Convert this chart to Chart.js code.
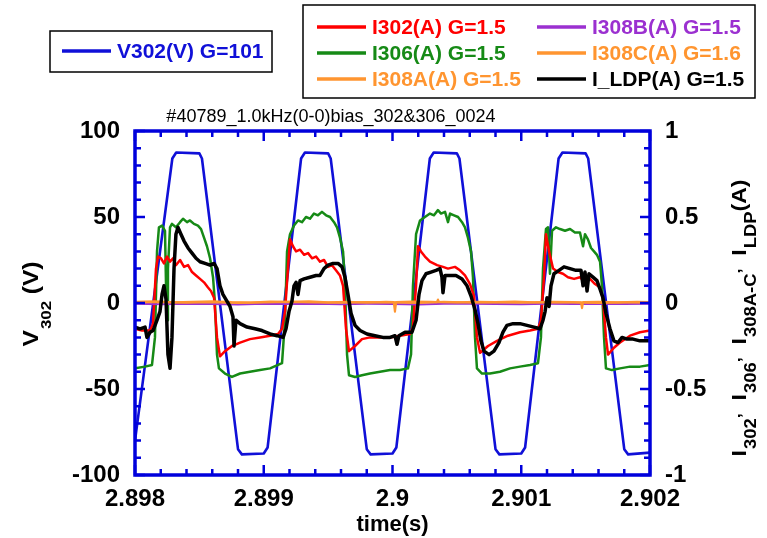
<!DOCTYPE html>
<html><head><meta charset="utf-8">
<script src="https://cdn.jsdelivr.net/npm/chart.js@4/dist/chart.umd.min.js"></script>
<style>html,body{margin:0;padding:0;background:#fff;}canvas{display:block;}</style>
</head><body>
<canvas id="c" width="767" height="538"></canvas>
<script>
// ---------- data (time in s, V302 in V, currents in A) ----------
const tV302 = [2.89800, 2.89829, 2.89832, 2.89850, 2.89852, 2.89880, 2.89883, 2.89900, 2.89903, 2.89929, 2.89932, 2.89950, 2.89952, 2.89980, 2.89983, 2.90000, 2.90003, 2.90029, 2.90032, 2.90050, 2.90052, 2.90080, 2.90083, 2.90100, 2.90103, 2.90129, 2.90132, 2.90150, 2.90152, 2.90180, 2.90183, 2.90200];
const v302 = [-80, 84, 87.5, 87, 84, -85, -88, -87.5, -84, 84, 87.5, 87, 84, -85, -88, -87.5, -84, 84, 87.5, 87, 84, -85, -88, -87.5, -84, 84, 87.5, 87, 84, -85, -88, -87];

const tI302 = [2.898000, 2.898054, 2.898117, 2.898140, 2.898163, 2.898179, 2.898202, 2.898225, 2.898249, 2.898272, 2.898295, 2.898318, 2.898350, 2.898381, 2.898412, 2.898443, 2.898474, 2.898505, 2.898536, 2.898567, 2.898590, 2.898614, 2.898637, 2.898660, 2.898699, 2.898753, 2.898816, 2.898893, 2.898971, 2.899049, 2.899111, 2.899142, 2.899165, 2.899188, 2.899204, 2.899227, 2.899251, 2.899282, 2.899313, 2.899344, 2.899375, 2.899406, 2.899437, 2.899468, 2.899499, 2.899530, 2.899561, 2.899592, 2.899616, 2.899639, 2.899662, 2.899709, 2.899763, 2.899825, 2.899903, 2.899981, 2.900058, 2.900136, 2.900159, 2.900183, 2.900198, 2.900221, 2.900252, 2.900291, 2.900346, 2.900392, 2.900431, 2.900485, 2.900524, 2.900563, 2.900602, 2.900633, 2.900656, 2.900680, 2.900742, 2.900812, 2.900897, 2.900990, 2.901068, 2.901130, 2.901153, 2.901177, 2.901192, 2.901216, 2.901247, 2.901285, 2.901324, 2.901363, 2.901410, 2.901456, 2.901495, 2.901534, 2.901573, 2.901612, 2.901635, 2.901658, 2.901674, 2.901720, 2.901767, 2.901845, 2.901922, 2.902000];
const i302 = [-0.15, -0.16, -0.16, -0.12, 0.20, 0.27, 0.26, 0.23, 0.27, 0.24, 0.26, 0.22, 0.25, 0.21, 0.22, 0.18, 0.16, 0.14, 0.12, 0.09, 0.07, 0.03, -0.20, -0.31, -0.28, -0.25, -0.23, -0.21, -0.20, -0.19, -0.18, -0.15, -0.05, 0.20, 0.37, 0.33, 0.30, 0.31, 0.28, 0.29, 0.26, 0.27, 0.24, 0.25, 0.21, 0.22, 0.19, 0.16, 0.10, -0.15, -0.28, -0.25, -0.21, -0.20, -0.20, -0.20, -0.19, -0.18, -0.14, 0.10, 0.33, 0.30, 0.27, 0.24, 0.22, 0.21, 0.20, 0.21, 0.19, 0.16, 0.11, 0.04, -0.20, -0.29, -0.25, -0.22, -0.19, -0.17, -0.16, -0.15, -0.10, 0.15, 0.40, 0.30, 0.20, 0.18, 0.17, 0.15, 0.14, 0.15, 0.12, 0.14, 0.11, 0.09, 0.02, -0.20, -0.30, -0.26, -0.23, -0.19, -0.17, -0.16];

const tI306 = [2.898000, 2.898078, 2.898132, 2.898155, 2.898171, 2.898186, 2.898210, 2.898233, 2.898241, 2.898249, 2.898256, 2.898272, 2.898287, 2.898318, 2.898350, 2.898373, 2.898404, 2.898427, 2.898458, 2.898489, 2.898513, 2.898536, 2.898559, 2.898583, 2.898606, 2.898621, 2.898637, 2.898652, 2.898699, 2.898753, 2.898816, 2.898893, 2.898971, 2.899049, 2.899111, 2.899142, 2.899165, 2.899181, 2.899204, 2.899235, 2.899266, 2.899297, 2.899328, 2.899359, 2.899390, 2.899421, 2.899452, 2.899484, 2.899515, 2.899546, 2.899569, 2.899592, 2.899616, 2.899631, 2.899647, 2.899662, 2.899709, 2.899763, 2.899825, 2.899903, 2.899981, 2.900058, 2.900120, 2.900144, 2.900159, 2.900183, 2.900214, 2.900252, 2.900291, 2.900322, 2.900353, 2.900377, 2.900408, 2.900431, 2.900447, 2.900478, 2.900509, 2.900540, 2.900563, 2.900586, 2.900610, 2.900625, 2.900641, 2.900656, 2.900695, 2.900757, 2.900835, 2.900913, 2.900990, 2.901068, 2.901130, 2.901153, 2.901169, 2.901192, 2.901208, 2.901223, 2.901239, 2.901270, 2.901301, 2.901340, 2.901379, 2.901417, 2.901456, 2.901480, 2.901495, 2.901518, 2.901542, 2.901565, 2.901588, 2.901612, 2.901627, 2.901643, 2.901658, 2.901705, 2.901767, 2.901845, 2.901922, 2.902000];
const i306 = [-0.38, -0.37, -0.36, -0.20, 0.30, 0.44, 0.45, 0.42, 0.10, -0.10, 0.20, 0.44, 0.46, 0.44, 0.47, 0.49, 0.47, 0.48, 0.46, 0.45, 0.43, 0.38, 0.33, 0.26, 0.15, 0.00, -0.30, -0.38, -0.41, -0.43, -0.41, -0.40, -0.39, -0.38, -0.36, -0.35, -0.10, 0.30, 0.40, 0.45, 0.48, 0.47, 0.50, 0.49, 0.52, 0.51, 0.53, 0.51, 0.50, 0.47, 0.44, 0.38, 0.30, 0.10, -0.30, -0.42, -0.43, -0.42, -0.41, -0.40, -0.39, -0.39, -0.38, -0.30, 0.10, 0.40, 0.48, 0.50, 0.52, 0.51, 0.54, 0.52, 0.53, 0.47, 0.52, 0.51, 0.50, 0.47, 0.44, 0.38, 0.30, 0.15, -0.20, -0.38, -0.41, -0.41, -0.40, -0.38, -0.37, -0.36, -0.35, -0.20, 0.20, 0.43, 0.44, 0.17, 0.42, 0.44, 0.43, 0.42, 0.43, 0.41, 0.41, 0.33, 0.40, 0.37, 0.32, 0.30, 0.28, 0.24, 0.10, -0.20, -0.38, -0.39, -0.38, -0.37, -0.37, -0.36];

const tI308A = [2.898000, 2.898150, 2.898300, 2.898450, 2.898600, 2.898750, 2.898900, 2.899050, 2.899200, 2.899350, 2.899500, 2.899650, 2.899800, 2.899950, 2.900010, 2.900019, 2.900028, 2.900150, 2.900300, 2.900345, 2.900353, 2.900361, 2.900500, 2.900650, 2.900800, 2.900950, 2.901100, 2.901250, 2.901400, 2.901464, 2.901472, 2.901480, 2.901600, 2.901750, 2.901900, 2.902000];
const i308A = [0.006, 0.009, 0.004, 0.007, 0.010, 0.005, 0.003, 0.008, 0.006, 0.009, 0.004, 0.007, 0.003, 0.006, 0.005, -0.05, 0.005, 0.008, 0.006, 0.005, 0.02, 0.006, 0.004, 0.007, 0.005, 0.008, 0.004, 0.006, 0.005, 0.004, -0.03, 0.005, 0.007, 0.004, 0.006, 0.005];

const tI308BC = [2.8980, 2.8982, 2.8984, 2.8986, 2.8988, 2.8990, 2.8992, 2.8994, 2.8996, 2.8998, 2.9000, 2.9002, 2.9004, 2.9006, 2.9008, 2.9010, 2.9012, 2.9014, 2.9016, 2.9018, 2.9020];
const i308B = [-0.005, -0.007, -0.004, -0.006, -0.008, -0.005, -0.006, -0.004, -0.007, -0.005, -0.006, -0.008, -0.005, -0.004, -0.006, -0.007, -0.005, -0.006, -0.004, -0.006, -0.005];
const i308C = [0.003, 0.006, 0.002, 0.005, 0.001, 0.004, 0.007, 0.003, 0.002, 0.005, 0.004, 0.001, 0.006, 0.003, 0.004, 0.002, 0.005, 0.003, 0.001, 0.004, 0.003];

const tLDP = [2.898000, 2.898039, 2.898078, 2.898093, 2.898117, 2.898140, 2.898171, 2.898194, 2.898210, 2.898225, 2.898241, 2.898256, 2.898272, 2.898287, 2.898303, 2.898318, 2.898334, 2.898357, 2.898381, 2.898412, 2.898443, 2.898474, 2.898505, 2.898544, 2.898583, 2.898614, 2.898637, 2.898660, 2.898683, 2.898707, 2.898738, 2.898761, 2.898769, 2.898784, 2.898816, 2.898870, 2.898932, 2.898986, 2.899049, 2.899103, 2.899150, 2.899173, 2.899196, 2.899219, 2.899235, 2.899251, 2.899266, 2.899282, 2.899313, 2.899359, 2.899406, 2.899437, 2.899468, 2.899499, 2.899538, 2.899577, 2.899608, 2.899631, 2.899654, 2.899678, 2.899709, 2.899748, 2.899802, 2.899864, 2.899926, 2.899981, 2.900019, 2.900035, 2.900050, 2.900097, 2.900151, 2.900183, 2.900206, 2.900229, 2.900260, 2.900299, 2.900338, 2.900369, 2.900384, 2.900392, 2.900408, 2.900447, 2.900493, 2.900540, 2.900579, 2.900610, 2.900641, 2.900664, 2.900687, 2.900711, 2.900750, 2.900788, 2.900827, 2.900858, 2.900889, 2.900936, 2.900990, 2.901045, 2.901099, 2.901146, 2.901169, 2.901185, 2.901200, 2.901216, 2.901231, 2.901254, 2.901293, 2.901332, 2.901379, 2.901425, 2.901464, 2.901480, 2.901495, 2.901511, 2.901526, 2.901557, 2.901588, 2.901612, 2.901635, 2.901658, 2.901689, 2.901720, 2.901751, 2.901783, 2.901821, 2.901868, 2.901922, 2.902000];
const iLDP = [-0.14, -0.15, -0.14, -0.20, -0.17, -0.16, -0.10, -0.05, 0.05, 0.10, 0.02, -0.30, -0.38, -0.20, 0.20, 0.40, 0.44, 0.40, 0.36, 0.32, 0.29, 0.26, 0.24, 0.23, 0.22, 0.23, 0.20, 0.10, 0.05, 0.02, -0.02, -0.08, -0.25, -0.10, -0.12, -0.14, -0.15, -0.16, -0.18, -0.19, -0.20, -0.15, -0.05, 0.01, 0.10, 0.12, 0.05, 0.13, 0.14, 0.15, 0.16, 0.16, 0.20, 0.22, 0.23, 0.23, 0.21, 0.15, 0.05, -0.06, -0.13, -0.16, -0.18, -0.19, -0.20, -0.20, -0.19, -0.24, -0.19, -0.17, -0.17, -0.10, 0.05, 0.13, 0.17, 0.18, 0.19, 0.20, 0.15, 0.06, 0.16, 0.16, 0.16, 0.14, 0.10, 0.04, -0.04, -0.12, -0.22, -0.28, -0.30, -0.28, -0.23, -0.17, -0.13, -0.12, -0.12, -0.13, -0.14, -0.15, -0.10, -0.05, 0.03, -0.02, 0.10, 0.17, 0.19, 0.21, 0.20, 0.19, 0.19, 0.10, 0.18, 0.07, 0.17, 0.15, 0.13, 0.08, 0.03, -0.06, -0.15, -0.22, -0.23, -0.20, -0.21, -0.21, -0.22, -0.22];

const xTickValues = [2.898, 2.899, 2.900, 2.901, 2.902];
const xTickLabels = ['2.898', '2.899', '2.9', '2.901', '2.902'];
const yTickValues = [-100, -50, 0, 50, 100];
const yTickLabels = ['-100', '-50', '0', '50', '100'];
const y1TickValues = [-1, -0.5, 0, 0.5, 1];
const y1TickLabels = ['-1', '-0.5', '0', '0.5', '1'];

const seriesLabels = ['V302(V) G=101', 'I302(A) G=1.5', 'I306(A) G=1.5', 'I308A(A) G=1.5', 'I308B(A) G=1.5', 'I308C(A) G=1.6', 'I_LDP(A) G=1.5'];
const titleText = '#40789_1.0kHz(0-0)bias_302&306_0024';

// ---------- styles ----------
const FONT = "'Liberation Sans', Arial, Helvetica, sans-serif";
const FRAME = '#0000dc';
const COLORS = ['#1010d8', '#ff0000', '#168a16', '#ff9530', '#9b30d0', '#ff9530', '#000000'];

const pts = (t, v) => t.map((x, i) => ({x: x, y: v[i]}));
function ds(i, t, v, axis, width, order) {
  return {label: seriesLabels[i], data: pts(t, v), yAxisID: axis, borderColor: COLORS[i],
    backgroundColor: COLORS[i], borderWidth: width, pointRadius: 0, tension: 0, fill: false,
    order: order, borderJoinStyle: 'round', borderCapStyle: 'round'};
}

const framePlugin = {
  id: 'frame',
  afterDatasetsDraw(chart) {
    const {ctx, chartArea: a, scales} = chart;
    const x = scales.x, y = scales.y;
    ctx.save();
    ctx.strokeStyle = FRAME; ctx.lineWidth = 2.5; ctx.lineCap = 'butt';
    ctx.beginPath();
    for (let i = 0; i <= 20; i++) {
      const py = y.getPixelForValue(-100 + i * 10);
      const L = (i % 5 === 0) ? 10 : 6;
      ctx.moveTo(a.left, py); ctx.lineTo(a.left + L, py);
      ctx.moveTo(a.right, py); ctx.lineTo(a.right - L, py);
    }
    for (let i = 0; i <= 20; i++) {
      const px = x.getPixelForValue(2.898 + i * 0.0002);
      const L = (i % 5 === 0) ? 10 : 6;
      ctx.moveTo(px, a.top); ctx.lineTo(px, a.top + L);
      ctx.moveTo(px, a.bottom); ctx.lineTo(px, a.bottom - L);
    }
    ctx.stroke();
    ctx.lineWidth = 3.5;
    ctx.strokeRect(a.left, a.top, a.right - a.left, a.bottom - a.top);
    ctx.restore();
  }
};

function drawRich(ctx, pieces, cy, baseX, stretch) {
  // vertical text rotated -90deg, centred on cy, baseline at page x = baseX
  ctx.save();
  ctx.translate(baseX, cy);
  ctx.rotate(-Math.PI / 2);
  ctx.scale(stretch, 1);
  ctx.textBaseline = 'alphabetic'; ctx.textAlign = 'left'; ctx.fillStyle = '#000';
  let total = 0;
  pieces.forEach(p => { ctx.font = p.f; total += ctx.measureText(p.s).width + (p.g || 0); });
  let xx = -total / 2;
  pieces.forEach(p => { ctx.font = p.f; ctx.fillText(p.s, xx, p.dy || 0); xx += ctx.measureText(p.s).width + (p.g || 0); });
  ctx.restore();
}

const textPlugin = {
  id: 'texts',
  afterDraw(chart) {
    const ctx = chart.ctx;
    const a = chart.chartArea;
    ctx.save();
    // title
    ctx.font = '18px ' + FONT; ctx.fillStyle = '#000'; ctx.textAlign = 'center'; ctx.textBaseline = 'middle';
    ctx.fillText(titleText, 331, 117);
    // x axis title
    ctx.font = 'bold 22px ' + FONT;
    ctx.fillText('time(s)', (a.left + a.right) / 2, 525);
    // left y title
    const M = 'bold 22px ' + FONT, S = 'bold 15px ' + FONT;
    drawRich(ctx, [{s: 'V', f: M, g: 1}, {s: '302', f: S, dy: 13, g: 6}, {s: '(V)', f: M}], 304, 38, 1.12);
    // right y title
    const M2 = 'bold 20px ' + FONT, S2 = 'bold 16px ' + FONT;
    drawRich(ctx, [
      {s: 'I', f: M2, g: 1}, {s: '302', f: S2, dy: 10}, {s: '\u2019', f: S2, dy: 4, g: 11},
      {s: 'I', f: M2, g: 1}, {s: '306', f: S2, dy: 10}, {s: '\u2019', f: S2, dy: 4, g: 11},
      {s: 'I', f: M2, g: 1}, {s: '308A-C', f: S2, dy: 10}, {s: '\u2019', f: S2, dy: 4, g: 11},
      {s: 'I', f: M2, g: 1}, {s: 'LDP', f: S2, dy: 10}, {s: '(A)', f: M2}
    ], 318, 746, 1.15);
    // legends
    const boxes = [
      {r: [50, 31, 222, 41], items: [{d: 0, x: 62, y: 51}]},
      {r: [303, 5, 452, 93], items: [{d: 1, x: 317, y: 27}, {d: 2, x: 317, y: 53}, {d: 3, x: 317, y: 79},
                                      {d: 4, x: 537, y: 27}, {d: 5, x: 537, y: 53}, {d: 6, x: 537, y: 79}]}
    ];
    boxes.forEach(b => {
      ctx.strokeStyle = '#000'; ctx.lineWidth = 1.5;
      ctx.strokeRect(b.r[0], b.r[1], b.r[2], b.r[3]);
      b.items.forEach(it => {
        const dset = chart.data.datasets[it.d];
        ctx.strokeStyle = dset.borderColor; ctx.lineWidth = 3.5;
        ctx.beginPath(); ctx.moveTo(it.x, it.y); ctx.lineTo(it.x + 49, it.y); ctx.stroke();
        ctx.font = 'bold 21px ' + FONT; ctx.fillStyle = dset.borderColor;
        ctx.textAlign = 'left'; ctx.textBaseline = 'middle';
        ctx.fillText(dset.label, it.x + 55, it.y + 1);
      });
    });
    ctx.restore();
  }
};

const tickFont = {family: FONT, size: 24, weight: 'bold'};
function fixedTicks(values) { return s => { s.ticks = values.map(v => ({value: v})); }; }

new Chart(document.getElementById('c'), {
  type: 'line',
  data: {datasets: [
    ds(0, tV302, v302, 'y', 2.6, 6),
    ds(1, tI302, i302, 'y1', 2.5, 4),
    ds(2, tI306, i306, 'y1', 2.5, 5),
    ds(3, tI308A, i308A, 'y1', 2.2, 2),
    ds(4, tI308BC, i308B, 'y1', 2, 3),
    ds(5, tI308BC, i308C, 'y1', 2.2, 1),
    ds(6, tLDP, iLDP, 'y1', 3.5, 0)
  ]},
  options: {
    responsive: false, animation: false, parsing: true,
    layout: {padding: {top: 131, left: 0, right: 0, bottom: 0}},
    plugins: {legend: {display: false}, title: {display: false}, tooltip: {enabled: false}},
    scales: {
      x: {type: 'linear', min: 2.898, max: 2.902,
        afterBuildTicks: fixedTicks(xTickValues),
        ticks: {font: tickFont, color: '#000', padding: 10, maxRotation: 0, autoSkip: false,
          callback: (v, i) => xTickLabels[i]},
        grid: {display: false, drawTicks: false}, border: {display: false},
        afterFit: s => { s.height = 63; }},
      y: {position: 'left', min: -100, max: 100,
        afterBuildTicks: fixedTicks(yTickValues),
        ticks: {font: tickFont, color: '#000', padding: 15, callback: (v, i) => yTickLabels[i]},
        grid: {display: false, drawTicks: false}, border: {display: false},
        afterFit: s => { s.width = 135; }},
      y1: {position: 'right', min: -1, max: 1,
        afterBuildTicks: fixedTicks(y1TickValues),
        ticks: {font: tickFont, color: '#000', padding: 15, callback: (v, i) => y1TickLabels[i]},
        grid: {display: false, drawTicks: false}, border: {display: false},
        afterFit: s => { s.width = 117; }}
    }
  },
  plugins: [framePlugin, textPlugin]
});
</script>
</body></html>
